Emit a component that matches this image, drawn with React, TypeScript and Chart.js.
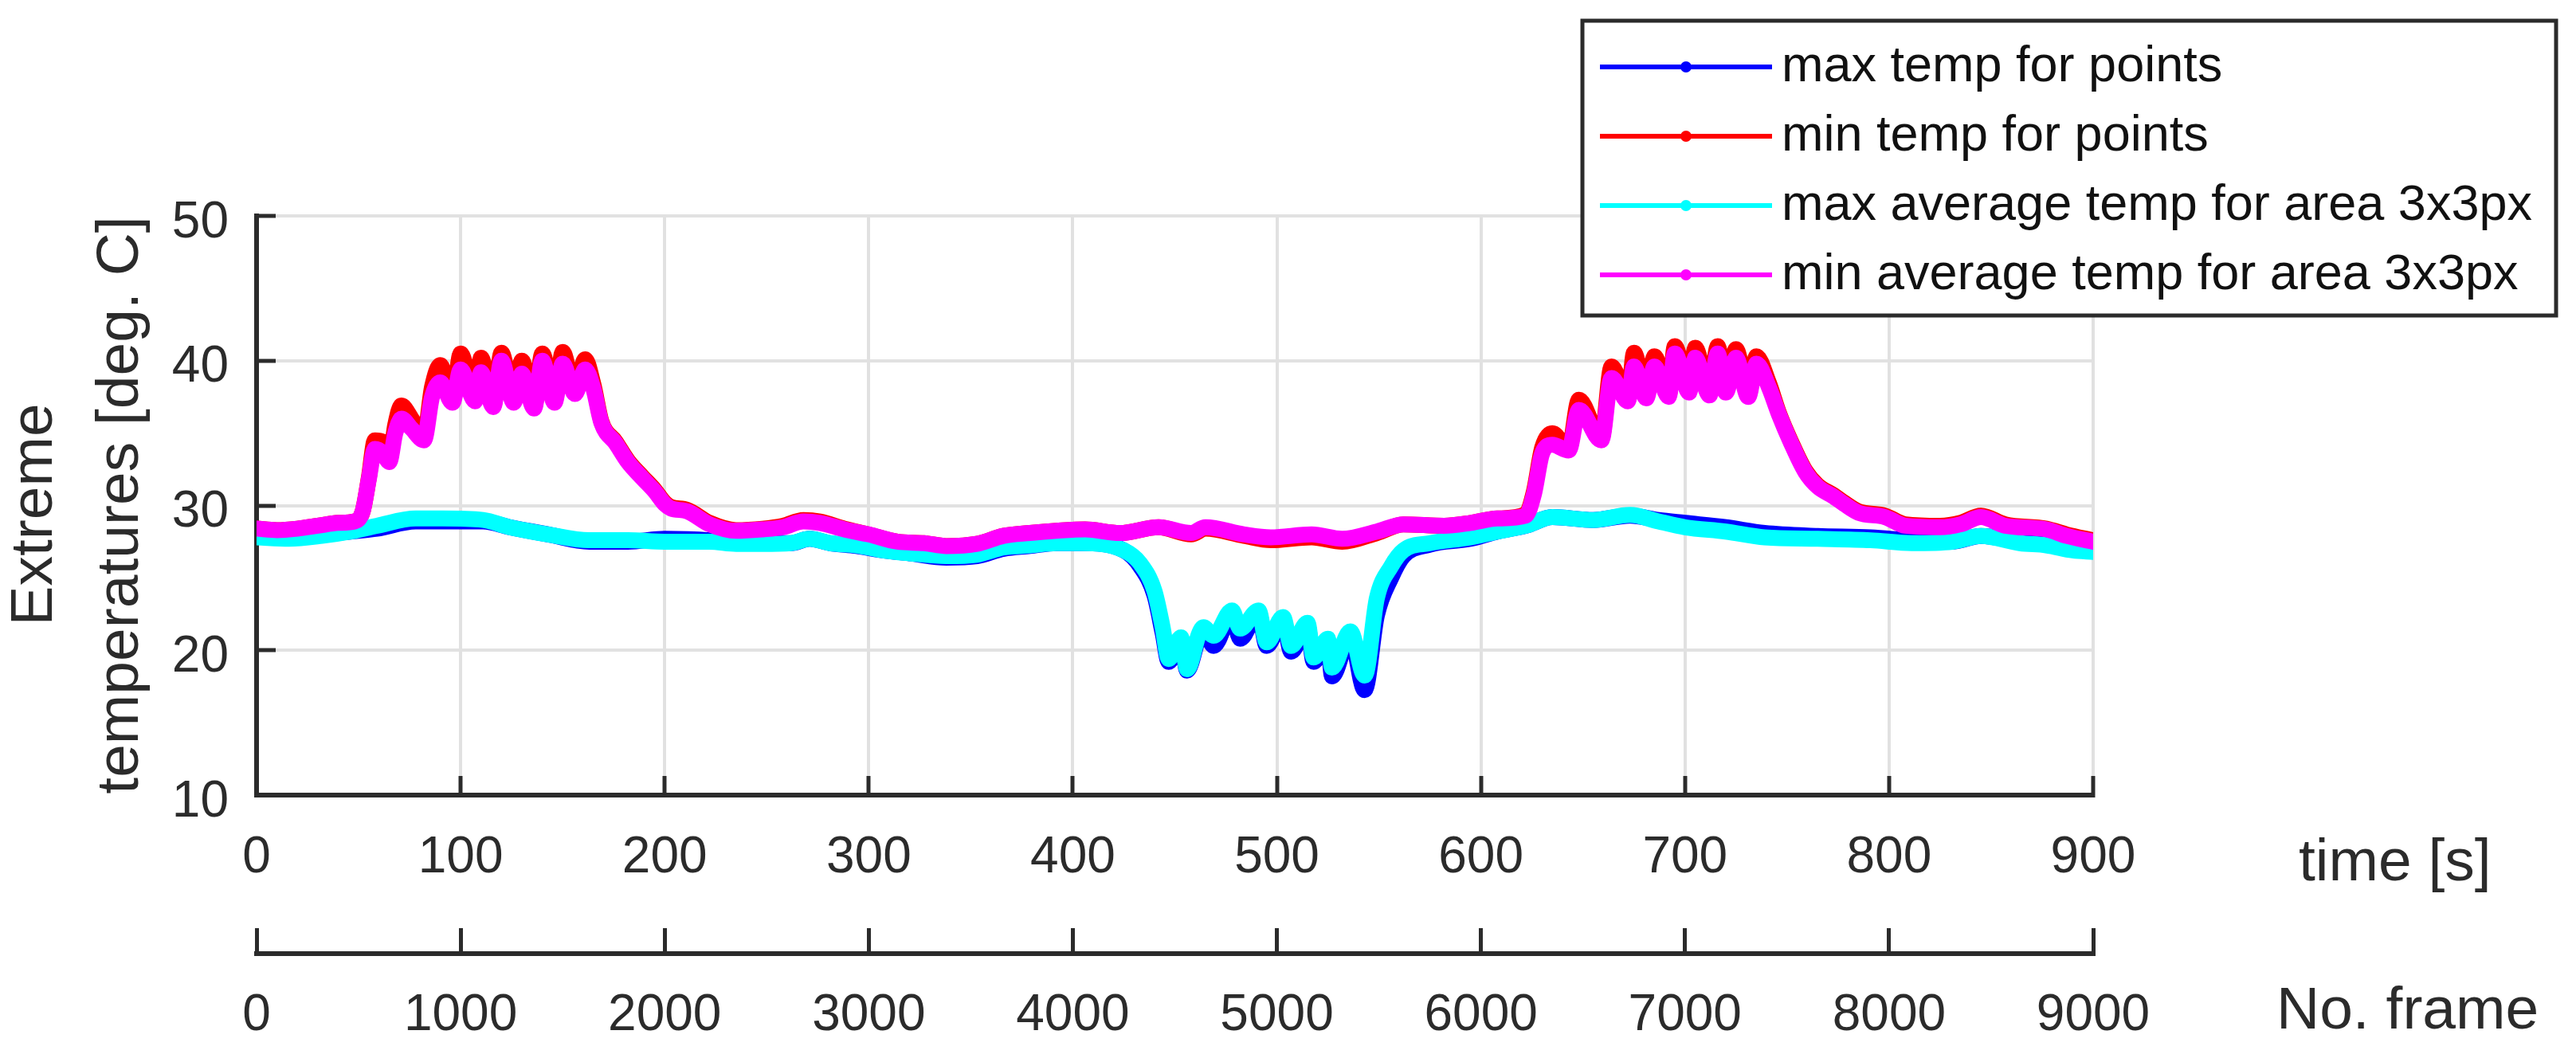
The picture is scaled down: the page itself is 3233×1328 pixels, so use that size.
import React, { useEffect, useRef } from 'react';
import { Chart, registerables } from 'chart.js';

Chart.register(...registerables);

// ---------- data ----------
// time [s] samples for the two "min" series (red / magenta)
const timesMin = [
  0, 10, 20, 30, 40, 48, 52, 55, 58, 62, 65, 68, 71, 76, 82, 86, 90, 96, 100, 107,
  110, 116, 120, 126, 130, 136, 140, 146, 150, 156, 161, 165, 169, 176, 182, 189, 195, 200, 203, 211,
  222, 235, 248, 258, 268, 276, 288, 300, 314, 327, 338, 353, 366, 379, 392, 406, 423, 442, 458, 465,
  484, 497, 517, 532, 549, 562, 582, 595, 608, 622, 626, 630, 635, 643, 648, 659, 664, 672, 675, 681,
  685, 692, 695, 702, 705, 712, 716, 720, 725, 731, 735, 741, 746, 752, 759, 765, 773, 778, 785, 798,
  808, 825, 835, 845, 857, 877, 887, 900,
];
// min temp for points (red)
const minPointTemps = [
  28.4, 28.3, 28.4, 28.6, 28.8, 28.9, 29.6, 31.9, 34.5, 34.4, 33.1, 35.6, 36.9, 36.0, 34.7, 38.2, 39.7, 37.2, 40.5, 37.3,
  40.2, 36.9, 40.55, 37.2, 40.0, 36.8, 40.5, 37.2, 40.6, 37.8, 40.1, 38.4, 35.8, 34.4, 33.1, 32.0, 31.1, 30.2, 29.9, 29.7,
  28.8, 28.3, 28.4, 28.6, 29.0, 28.9, 28.4, 28.0, 27.5, 27.4, 27.2, 27.35, 27.9, 28.1, 28.25, 28.35, 28.1, 28.5, 28.0, 28.4,
  27.9, 27.6, 27.8, 27.5, 28.1, 28.7, 28.6, 28.8, 29.1, 29.4, 31.0, 34.0, 35.0, 33.9, 37.3, 34.6, 39.6, 37.3, 40.55, 37.5,
  40.3, 37.6, 41.0, 37.9, 40.9, 37.7, 41.0, 37.9, 40.8, 37.6, 40.3, 38.5, 36.4, 34.4, 32.4, 31.4, 30.7, 30.2, 29.6, 29.3,
  28.7, 28.6, 28.8, 29.3, 28.7, 28.4, 28.0, 27.6,
];
// min average temp for area 3x3px (magenta)
const minAvgTemps = [
  28.4, 28.3, 28.4, 28.6, 28.8, 28.9, 29.6, 31.8, 33.9, 33.6, 33.0, 35.0, 36.0, 35.3, 34.5, 37.5, 38.5, 37.1, 39.4, 37.2,
  39.2, 36.8, 40.0, 37.1, 39.1, 36.7, 40.0, 37.1, 39.8, 37.7, 39.4, 38.1, 35.7, 34.3, 33.0, 31.9, 31.0, 30.1, 29.8, 29.6,
  28.7, 28.25, 28.35, 28.5, 28.9, 28.8, 28.35, 28.0, 27.5, 27.4, 27.2, 27.35, 27.9, 28.1, 28.25, 28.35, 28.1, 28.5, 28.1, 28.5,
  28.0, 27.8, 28.0, 27.7, 28.2, 28.7, 28.6, 28.8, 29.1, 29.3, 30.8, 33.6, 34.2, 33.8, 36.6, 34.5, 38.8, 37.2, 39.6, 37.4,
  39.6, 37.5, 40.5, 37.8, 40.2, 37.6, 40.5, 37.8, 40.2, 37.5, 39.8, 38.2, 36.3, 34.3, 32.3, 31.3, 30.6, 30.1, 29.5, 29.2,
  28.6, 28.5, 28.7, 29.2, 28.6, 28.35, 27.9, 27.5,
];

// time [s] samples for the two "max" series (blue / cyan)
const timesMax = [
  0, 16, 32, 46, 59, 78, 91, 111, 124, 143, 163, 182, 200, 222, 235, 248, 262, 271, 281, 294,
  307, 320, 338, 353, 366, 379, 392, 404, 425, 433, 440, 444, 447, 453, 456, 462, 464, 469, 478, 482,
  491, 495, 503, 507, 515, 518, 525, 527, 536, 543, 549, 556, 562, 575, 595, 608, 622, 635, 655, 673,
  687, 700, 720, 739, 765, 791, 811, 831, 845, 864, 877, 890, 900,
];
// max temp for points (blue)
const maxPointTemps = [
  27.9, 27.8, 28.0, 28.2, 28.4, 28.9, 28.9, 28.9, 28.5, 28.0, 27.5, 27.5, 27.7, 27.6, 27.4, 27.4, 27.4, 27.7, 27.4, 27.2,
  26.9, 26.7, 26.4, 26.5, 27.0, 27.2, 27.4, 27.4, 26.9, 25.8, 23.8, 21.2, 19.2, 20.7, 18.6, 21.0, 21.4, 20.3, 22.5, 20.8,
  22.6, 20.3, 22.1, 19.9, 21.7, 19.2, 20.6, 18.2, 21.0, 17.25, 22.4, 25.0, 26.5, 27.3, 27.7, 28.2, 28.6, 29.2, 29.0, 29.3,
  29.0, 28.8, 28.5, 28.1, 27.9, 27.8, 27.6, 27.5, 27.9, 27.5, 27.3, 27.0, 26.9,
];
// max average temp for area 3x3px (cyan)
const maxAvgTemps = [
  27.8, 27.7, 27.9, 28.2, 28.6, 29.1, 29.1, 29.0, 28.5, 28.0, 27.6, 27.6, 27.5, 27.5, 27.35, 27.35, 27.4, 27.7, 27.4, 27.25,
  26.9, 26.7, 26.5, 26.6, 27.1, 27.25, 27.4, 27.4, 26.9, 26.0, 24.1, 21.6, 19.4, 20.9, 18.7, 21.2, 21.6, 21.0, 22.75, 21.5,
  22.75, 20.55, 22.3, 20.3, 21.9, 19.5, 20.8, 18.8, 21.3, 18.25, 23.6, 25.8, 26.9, 27.4, 27.8, 28.2, 28.6, 29.2, 29.0, 29.35,
  28.9, 28.5, 28.2, 27.8, 27.7, 27.6, 27.4, 27.5, 27.9, 27.4, 27.25, 26.9, 26.8,
];

const timeTicks = [0, 100, 200, 300, 400, 500, 600, 700, 800, 900];
const frameTicks = [0, 1000, 2000, 3000, 4000, 5000, 6000, 7000, 8000, 9000];
const tempTicks = [10, 20, 30, 40, 50];

const seriesLabels = [
  'max temp for points',
  'min temp for points',
  'max average temp for area 3x3px',
  'min average temp for area 3x3px',
];
const seriesColors = ['#0000ff', '#ff0000', '#00ffff', '#ff00ff'];

const xTitle = 'time [s]';
const x2Title = 'No. frame';
const yTitleLines = ['Extreme', 'temperatures [deg. C]'];

// ---------- styling ----------
const W = 3233;
const H = 1328;
const FONT = '"Liberation Sans", Arial, Helvetica, sans-serif';
const AXIS_COLOR = '#2b2b2b';
const GRID_COLOR = '#e1e1e1';

const toPoints = (xs: number[], ys: number[]) => xs.map((x, i) => ({ x, y: ys[i] }));

const overlayPlugin = {
  id: 'overlay',
  afterDraw(chart: any) {
    const ctx = chart.ctx as CanvasRenderingContext2D;
    ctx.save();
    ctx.fillStyle = AXIS_COLOR;
    ctx.textBaseline = 'middle';

    // axis titles
    ctx.font = `75px ${FONT}`;
    ctx.textAlign = 'left';
    ctx.fillText(xTitle, 2885, 1084);
    ctx.fillText(x2Title, 2857, 1270);

    ctx.textAlign = 'center';
    ctx.save();
    ctx.translate(44, 646);
    ctx.rotate(-Math.PI / 2);
    ctx.fillText(yTitleLines[0], 0, 0);
    ctx.restore();
    ctx.save();
    ctx.translate(152, 634);
    ctx.rotate(-Math.PI / 2);
    ctx.fillText(yTitleLines[1], 0, 0);
    ctx.restore();

    // legend box
    const bx = 1986, by = 26, bw = 1222, bh = 370;
    ctx.fillStyle = '#ffffff';
    ctx.fillRect(bx, by, bw, bh);
    ctx.lineWidth = 5;
    ctx.strokeStyle = AXIS_COLOR;
    ctx.strokeRect(bx, by, bw, bh);

    const rows = [84, 171, 258, 345];
    ctx.font = `63px ${FONT}`;
    ctx.textAlign = 'left';
    seriesLabels.forEach((label, i) => {
      const y = rows[i];
      ctx.strokeStyle = seriesColors[i];
      ctx.lineWidth = 6;
      ctx.beginPath();
      ctx.moveTo(2008, y);
      ctx.lineTo(2224, y);
      ctx.stroke();
      ctx.fillStyle = seriesColors[i];
      ctx.beginPath();
      ctx.arc(2116, y, 7, 0, Math.PI * 2);
      ctx.fill();
      ctx.fillStyle = '#111111';
      ctx.fillText(label, 2236, y + 1);
    });
    ctx.restore();
  },
};

export default function App() {
  const canvasRef = useRef<HTMLCanvasElement | null>(null);

  useEffect(() => {
    document.body.style.margin = '0';
    document.body.style.overflow = 'hidden';
    const canvas = canvasRef.current;
    if (!canvas) return;

    const lineDs = (label: string, color: string, xs: number[], ys: number[], order: number) => ({
      label,
      data: toPoints(xs, ys),
      borderColor: color,
      backgroundColor: color,
      borderWidth: 20,
      pointRadius: 0,
      borderJoinStyle: 'round' as const,
      borderCapStyle: 'round' as const,
      cubicInterpolationMode: 'monotone' as const,
      fill: false,
      order,
    });

    const chart = new Chart(canvas, {
      type: 'line',
      data: {
        datasets: [
          lineDs(seriesLabels[0], seriesColors[0], timesMax, maxPointTemps, 3),
          lineDs(seriesLabels[1], seriesColors[1], timesMin, minPointTemps, 2),
          lineDs(seriesLabels[2], seriesColors[2], timesMax, maxAvgTemps, 1),
          lineDs(seriesLabels[3], seriesColors[3], timesMin, minAvgTemps, 0),
        ],
      },
      options: {
        animation: false,
        responsive: false,
        devicePixelRatio: 1,
        parsing: false as any,
        normalized: true,
        layout: { padding: { left: 0, top: 271, right: 606, bottom: 0 } },
        plugins: {
          legend: { display: false },
          tooltip: { enabled: false },
          title: { display: false },
        },
        scales: {
          x: {
            type: 'linear',
            position: 'bottom',
            min: 0,
            max: 900,
            weight: 0,
            afterBuildTicks: (s: any) => { s.ticks = timeTicks.map((v) => ({ value: v })); },
            afterFit: (s: any) => { s.height = 199; },
            ticks: {
              autoSkip: false,
              maxRotation: 0,
              padding: 65,
              color: AXIS_COLOR,
              font: { family: FONT, size: 64 },
              callback: (v: any) => String(v),
            },
            grid: {
              color: (c: any) => (c.tick && c.tick.value === 0 ? 'rgba(0,0,0,0)' : GRID_COLOR),
              lineWidth: 4,
              drawTicks: true,
              tickLength: -24,
              tickColor: AXIS_COLOR,
              tickWidth: 5,
            },
            border: { display: true, color: AXIS_COLOR, width: 6 },
          },
          x2: {
            type: 'linear',
            axis: 'x',
            position: 'bottom',
            min: 0,
            max: 9000,
            weight: 1,
            display: true,
            afterBuildTicks: (s: any) => { s.ticks = frameTicks.map((v) => ({ value: v })); },
            afterFit: (s: any) => { s.height = 131; },
            ticks: {
              autoSkip: false,
              maxRotation: 0,
              padding: 72,
              color: AXIS_COLOR,
              font: { family: FONT, size: 64 },
              callback: (v: any) => String(v),
            },
            grid: {
              drawOnChartArea: false,
              drawTicks: true,
              tickLength: -32,
              tickColor: AXIS_COLOR,
              tickWidth: 5,
            },
            border: { display: true, color: AXIS_COLOR, width: 6 },
          },
          y: {
            type: 'linear',
            position: 'left',
            min: 10,
            max: 50,
            afterBuildTicks: (s: any) => { s.ticks = tempTicks.map((v) => ({ value: v })); },
            afterFit: (s: any) => { s.width = 322; },
            ticks: {
              autoSkip: false,
              padding: 59,
              labelOffset: 9,
              color: AXIS_COLOR,
              font: { family: FONT, size: 64 },
              callback: (v: any) => String(v),
            },
            grid: {
              color: (c: any) => (c.tick && c.tick.value === 10 ? 'rgba(0,0,0,0)' : GRID_COLOR),
              lineWidth: 4,
              drawTicks: true,
              tickLength: -24,
              tickColor: AXIS_COLOR,
              tickWidth: 5,
            },
            border: { display: true, color: AXIS_COLOR, width: 6 },
          },
        },
      } as any,
      plugins: [overlayPlugin],
    });

    return () => chart.destroy();
  }, []);

  return (
    <div style={{ width: W, height: H, position: 'relative', background: '#ffffff' }}>
      <canvas ref={canvasRef} width={W} height={H} style={{ width: W, height: H, display: 'block' }} />
    </div>
  );
}
